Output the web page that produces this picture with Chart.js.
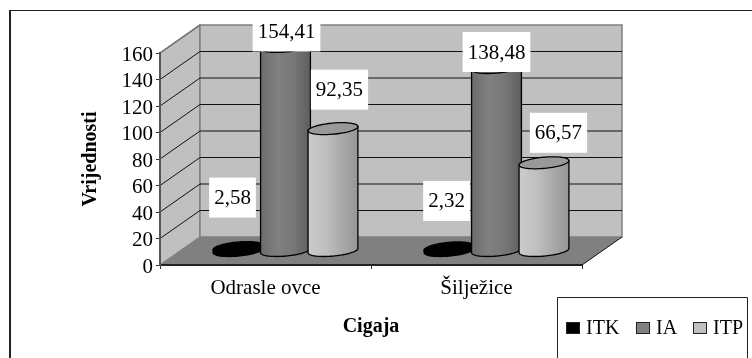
<!DOCTYPE html>
<html lang="hr">

<head>
    <meta charset="UTF-8">
    <title>Cigaja</title>
    <script src="https://cdn.jsdelivr.net/npm/chart.js"></script>
    <style>
        body {
            margin: 0;
            background-color: #fff;
        }

        canvas {
            display: block;
        }
    </style>
</head>

<body>

    <canvas id="grafikon" width="752" height="358"></canvas>

    <script>
        const categories = ['Odrasle ovce', 'Šilježice'];
        const itk = [2.58, 2.32];
        const ia = [154.41, 138.48];
        const itp = [92.35, 66.57];

        const serif = '"Liberation Serif", "Times New Roman", serif';
        const depthX = 40; // pomak stražnjeg zida
        const depthY = 28;

        // pomak natpisa od vrha valjka
        const labelShift = {
            ITK: [[-5.5, -50], [-2.5, -47]],
            IA: [[1, -15], [0, -15.5]],
            ITP: [[6.5, -39], [14.5, -30]]
        };

        const legendPos = {
            ITK: [566, 586],
            IA: [636, 656],
            ITP: [693, 713]
        };

        const barStyle = {
            ITK: { top: '#000', stops: ['#000', '#000', '#000', '#000'] },
            IA: { top: '#777', stops: ['#6c6c6c', '#808080', '#787878', '#5e5e5e'] },
            ITP: { top: '#999', stops: ['#cbcbcb', '#c0c0c0', '#ababab', '#959595'] }
        };

        function drawWalls(chart) {
            const { ctx, chartArea: a, scales: { y } } = chart;
            const backL = a.left + depthX, backR = a.right + depthX;
            const backTop = a.top - depthY, backBottom = a.bottom - depthY;

            ctx.save();
            // okvir grafikona
            ctx.strokeStyle = '#222';
            ctx.lineWidth = 1;
            ctx.beginPath();
            ctx.moveTo(752, 10.5);
            ctx.lineTo(10, 10.5);
            ctx.stroke();
            ctx.lineWidth = 2;
            ctx.beginPath();
            ctx.moveTo(10, 10);
            ctx.lineTo(10, 358);
            ctx.stroke();

            ctx.strokeStyle = '#808080';
            ctx.lineWidth = 1.5;
            ctx.fillStyle = '#c0c0c0';
            // lijevi zid
            ctx.beginPath();
            ctx.moveTo(a.left, a.top);
            ctx.lineTo(backL, backTop);
            ctx.lineTo(backL, backBottom);
            ctx.lineTo(a.left, a.bottom);
            ctx.closePath();
            ctx.fill();
            ctx.stroke();
            // stražnji zid
            ctx.fillRect(backL, backTop, backR - backL, backBottom - backTop);
            ctx.strokeRect(backL, backTop, backR - backL, backBottom - backTop);

            // linije mreže
            ctx.strokeStyle = '#111';
            ctx.lineWidth = 1;
            y.ticks.forEach(t => {
                const py = y.getPixelForValue(t.value);
                if (t.value === 0) return;
                ctx.beginPath();
                ctx.moveTo(a.left, py);
                ctx.lineTo(backL, py - depthY);
                ctx.stroke();
                if (t.value === 160) return;
                ctx.beginPath();
                ctx.moveTo(backL, py - depthY);
                ctx.lineTo(backR, py - depthY);
                ctx.stroke();
            });

            // pod
            ctx.fillStyle = '#808080';
            ctx.beginPath();
            ctx.moveTo(a.left, a.bottom);
            ctx.lineTo(backL, backBottom);
            ctx.lineTo(backR, backBottom);
            ctx.lineTo(a.right, a.bottom);
            ctx.closePath();
            ctx.fill();
            ctx.strokeStyle = '#111';
            ctx.beginPath();
            ctx.moveTo(a.right, a.bottom);
            ctx.lineTo(backR, backBottom);
            ctx.stroke();
            // gornji rub lijevog zida je siv
            ctx.strokeStyle = '#808080';
            ctx.lineWidth = 1.5;
            ctx.beginPath();
            ctx.moveTo(a.left, a.top);
            ctx.lineTo(backL, backTop);
            ctx.stroke();
            ctx.restore();
        }

        function drawCylinder(ctx, bar, style) {
            const hw = bar.width / 2;
            const k = 9, s = 6;
            const r = Math.sqrt(hw * hw - k * k);
            const t0 = Math.atan2(k, r);
            const cx = bar.x + depthX / 2;
            const top = bar.y - depthY / 2;
            const base = bar.base - depthY / 2;
            const px = t => cx + r * Math.cos(t) + k * Math.sin(t);
            const py = (t, y0) => y0 - s * Math.sin(t);

            const grad = ctx.createLinearGradient(cx - hw, 0, cx + hw, 0);
            grad.addColorStop(0, style.stops[0]);
            grad.addColorStop(0.35, style.stops[1]);
            grad.addColorStop(0.65, style.stops[2]);
            grad.addColorStop(1, style.stops[3]);

            ctx.save();
            ctx.lineWidth = 1.3;
            ctx.strokeStyle = '#000';
            ctx.fillStyle = grad;
            ctx.beginPath();
            ctx.moveTo(px(t0), py(t0, top));
            for (let i = 0; i <= 40; i++) {
                const t = t0 - Math.PI * i / 40;
                ctx.lineTo(px(t), py(t, base));
            }
            ctx.lineTo(px(t0 - Math.PI), py(t0 - Math.PI, top));
            ctx.closePath();
            ctx.fill();
            ctx.stroke();

            ctx.fillStyle = style.top;
            ctx.beginPath();
            for (let i = 0; i <= 80; i++) {
                const t = Math.PI * 2 * i / 80;
                ctx.lineTo(px(t), py(t, top));
            }
            ctx.closePath();
            ctx.fill();
            ctx.stroke();
            ctx.restore();
        }

        function drawLabels(chart) {
            const { ctx } = chart;
            ctx.save();
            ctx.font = '21px ' + serif;
            ctx.textAlign = 'center';
            ctx.textBaseline = 'middle';
            chart.data.datasets.forEach((ds, i) => {
                chart.getDatasetMeta(i).data.forEach((bar, j) => {
                    const text = ds.data[j].toFixed(2).replace('.', ',');
                    const [dx, dy] = labelShift[ds.label][j];
                    const lx = bar.x + depthX / 2 + dx;
                    const ly = bar.y - depthY / 2 + dy;
                    const w = ctx.measureText(text).width + 10;
                    ctx.fillStyle = '#fff';
                    ctx.fillRect(lx - w / 2, ly - 20, w, 40);
                    ctx.fillStyle = '#000';
                    ctx.fillText(text, lx, ly + 1);
                });
            });
            ctx.restore();
        }

        function drawLegend(chart) {
            const { ctx } = chart;
            ctx.save();
            ctx.strokeStyle = '#222';
            ctx.lineWidth = 1;
            ctx.beginPath();
            ctx.moveTo(557.5, 358);
            ctx.lineTo(557.5, 297.5);
            ctx.lineTo(747.5, 297.5);
            ctx.lineTo(747.5, 358);
            ctx.stroke();
            ctx.font = '20px ' + serif;
            ctx.textBaseline = 'middle';
            chart.data.datasets.forEach(ds => {
                const [sx, tx] = legendPos[ds.label];
                ctx.fillStyle = ds.backgroundColor;
                ctx.fillRect(sx, 322, 14, 12);
                ctx.strokeRect(sx + 0.5, 322.5, 13, 11);
                ctx.fillStyle = '#000';
                ctx.fillText(ds.label, tx, 329);
            });
            ctx.restore();
        }

        const cylinders = {
            id: 'cylinders',
            beforeDraw: drawWalls,
            beforeDatasetsDraw(chart) {
                chart.data.datasets.forEach((ds, i) => {
                    chart.getDatasetMeta(i).data.forEach(bar => drawCylinder(chart.ctx, bar, barStyle[ds.label]));
                });
                return false;
            },
            afterDraw(chart) {
                drawLabels(chart);
                drawLegend(chart);
            }
        };

        new Chart(document.getElementById('grafikon'), {
            type: 'bar',
            data: {
                labels: categories,
                datasets: [
                    { label: 'ITK', data: itk, backgroundColor: '#000' },
                    { label: 'IA', data: ia, backgroundColor: '#808080' },
                    { label: 'ITP', data: itp, backgroundColor: '#c0c0c0' }
                ]
            },
            options: {
                responsive: false,
                animation: false,
                categoryPercentage: 0.675,
                barPercentage: 1.05,
                layout: {
                    autoPadding: false,
                    padding: { left: 0, top: 53, right: 170, bottom: 0 }
                },
                plugins: {
                    legend: { display: false },
                    tooltip: { enabled: false }
                },
                scales: {
                    x: {
                        afterFit(scale) { scale.height = 93; },
                        grid: { drawOnChartArea: false, tickLength: 4, color: '#333' },
                        border: { color: '#222', width: 2 },
                        ticks: { color: '#000', padding: 7, maxRotation: 0, font: { family: serif, size: 21 } },
                        title: {
                            display: true,
                            text: 'Cigaja',
                            color: '#000',
                            padding: { top: 0, bottom: 19 },
                            font: { family: serif, size: 20, weight: 'bold' }
                        }
                    },
                    y: {
                        min: 0,
                        max: 160,
                        afterFit(scale) { scale.width = 160; },
                        grid: { drawOnChartArea: false, tickLength: 4, color: '#333' },
                        border: { color: '#555', width: 2 },
                        ticks: { stepSize: 20, autoSkip: false, labelOffset: 2, color: '#000', padding: 3, font: { family: serif, size: 21 } },
                        title: {
                            display: true,
                            text: 'Vrijednosti',
                            color: '#000',
                            padding: { top: 79, bottom: 0 },
                            font: { family: serif, size: 20, weight: 'bold' }
                        }
                    }
                }
            },
            plugins: [cylinders]
        });
    </script>

</body>

</html>
